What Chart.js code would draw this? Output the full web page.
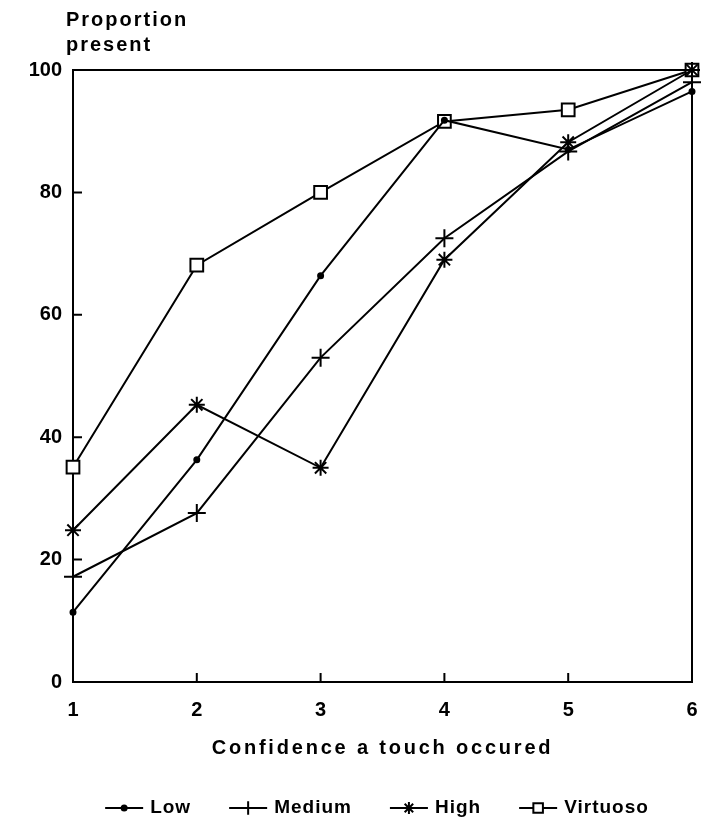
<!DOCTYPE html>
<html>
<head>
<meta charset="utf-8">
<script src="https://cdn.jsdelivr.net/npm/chart.js@4"></script>
<style>
  html, body { margin: 0; padding: 0; background: #fff; }
  #wrap { width: 708px; height: 821px; }
</style>
</head>
<body>
<div id="wrap"><canvas id="chart"></canvas></div>
<script>
// datos
const confianza = [1, 2, 3, 4, 5, 6];
const low = [11.4, 36.3, 66.4, 91.8, 87.0, 96.5];
const medium = [17.2, 27.6, 53.0, 72.5, 86.7, 98.0];
const high = [24.8, 45.3, 35.0, 69.0, 88.2, 100];
const virtuoso = [35.1, 68.1, 80.0, 91.6, 93.5, 100];
const seriesNames = ['Low', 'Medium', 'High', 'Virtuoso'];
const yTicks = [0, 20, 40, 60, 80, 100];

const FONT = 'bold 20px "Liberation Sans", Arial, sans-serif';

function puntos(vals) {
    return confianza.map((c, i) => ({x: c, y: vals[i]}));
}

const estilos = [
    {pointStyle: 'circle', radius: 2.5, fill: '#000'},
    {pointStyle: 'cross', radius: 9, fill: '#000'},
    {pointStyle: 'star', radius: 8, fill: '#000'},
    {pointStyle: 'rect', radius: 9, fill: '#fff'}
];

const datasets = [low, medium, high, virtuoso].map((vals, i) => ({
    label: seriesNames[i],
    data: puntos(vals),
    borderColor: '#000',
    borderWidth: 2,
    backgroundColor: estilos[i].fill,
    pointStyle: estilos[i].pointStyle,
    pointRadius: estilos[i].radius,
    pointBorderColor: '#000',
    pointBackgroundColor: estilos[i].fill,
    pointBorderWidth: 2,
    tension: 0,
    fill: false,
    clip: false
}));

// marco, marcas interiores, titulos y leyenda
const decoracion = {
    id: 'decoracion',
    beforeDatasetsDraw(chart) {
        const ctx = chart.ctx;
        const a = chart.chartArea;
        const xs = chart.scales.x, ys = chart.scales.y;
        ctx.save();
        ctx.strokeStyle = '#000';
        ctx.lineWidth = 2;
        ctx.strokeRect(a.left, a.top, a.right - a.left, a.bottom - a.top);
        ctx.beginPath();
        yTicks.slice(1, -1).forEach(v => {
            const py = ys.getPixelForValue(v);
            ctx.moveTo(a.left, py);
            ctx.lineTo(a.left + 9, py);
        });
        confianza.slice(1, -1).forEach(v => {
            const px = xs.getPixelForValue(v);
            ctx.moveTo(px, a.bottom);
            ctx.lineTo(px, a.bottom - 9);
        });
        ctx.stroke();
        ctx.restore();
    },
    afterDraw(chart) {
        const ctx = chart.ctx;
        const a = chart.chartArea;
        ctx.save();
        ctx.fillStyle = '#000';
        ctx.font = FONT;
        ctx.letterSpacing = '2px';
        ctx.textBaseline = 'middle';
        ctx.textAlign = 'left';
        ctx.fillText('Proportion', a.left - 7, 20);
        ctx.fillText('present', a.left - 7, 45);
        ctx.textAlign = 'center';
        ctx.letterSpacing = '2.8px';
        ctx.fillText('Confidence a touch occured', (a.left + a.right) / 2, 748);

        // leyenda
        ctx.font = 'bold 19px "Liberation Sans", Arial, sans-serif';
        ctx.letterSpacing = '1px';
        ctx.textAlign = 'left';
        const lineLen = 38, gapTxt = 7, gapItem = 38, ly = 808;
        const widths = seriesNames.map(n => lineLen + gapTxt + ctx.measureText(n).width);
        const total = widths.reduce((s, w) => s + w, 0) + gapItem * (widths.length - 1);
        let x = 377 - total / 2;
        seriesNames.forEach((n, i) => {
            ctx.strokeStyle = '#000';
            ctx.lineWidth = 2;
            ctx.beginPath();
            ctx.moveTo(x, ly);
            ctx.lineTo(x + lineLen, ly);
            ctx.stroke();
            ctx.fillStyle = estilos[i].fill;
            const r = i === 0 ? 2.5 : estilos[i].radius * 0.75;
            Chart.helpers.drawPoint(ctx, {pointStyle: estilos[i].pointStyle, radius: r, rotation: 0, borderWidth: 2}, x + lineLen / 2, ly);
            ctx.fillStyle = '#000';
            ctx.fillText(n, x + lineLen + gapTxt, ly);
            x += widths[i] + gapItem;
        });
        ctx.restore();
    }
};

new Chart(document.getElementById('chart').getContext('2d'), {
    type: 'line',
    data: {datasets: datasets},
    options: {
        responsive: true,
        maintainAspectRatio: false,
        animation: false,
        layout: {padding: {top: 70, right: 16, left: 0, bottom: 0}},
        plugins: {legend: {display: false}, tooltip: {enabled: false}, title: {display: false}},
        scales: {
            x: {
                type: 'linear',
                min: 1,
                max: 6,
                afterFit: s => { s.height = 139; s.paddingLeft = 0; s.paddingRight = 0; },
                grid: {display: false, drawTicks: false},
                border: {display: false},
                ticks: {stepSize: 1, padding: 16, color: '#000', font: {family: '"Liberation Sans", Arial, sans-serif', size: 20, weight: 'bold'}}
            },
            y: {
                min: 0,
                max: 100,
                afterFit: s => { s.width = 73; s.paddingTop = 0; s.paddingBottom = 0; },
                afterBuildTicks: s => { s.ticks = yTicks.map(v => ({value: v})); },
                grid: {display: false, drawTicks: false},
                border: {display: false},
                ticks: {padding: 11, color: '#000', font: {family: '"Liberation Sans", Arial, sans-serif', size: 20, weight: 'bold'}}
            }
        }
    },
    plugins: [decoracion]
});
</script>
</body>
</html>
